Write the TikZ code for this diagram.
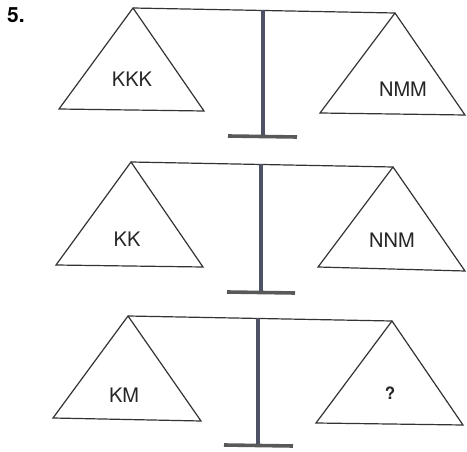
\documentclass[tikz,border=0pt]{standalone}
\usepackage{fontspec}
\setmainfont{TeX Gyre Heros}
\definecolor{polegray}{RGB}{78,82,100}
\begin{document}
\begin{tikzpicture}[
  x=1pt, y=-1pt,
  pan/.style={draw=black!80, line width=1.2pt, line join=miter},
  beam/.style={draw=black!80, line width=1.2pt},
  pole/.style={draw=polegray, line width=3.6pt},
  foot/.style={draw=black!65, line width=3.6pt},
  weight/.style={font=\fontsize{20}{24}\selectfont, text=black!85}
]
  \useasboundingbox (0,0) rectangle (467,452);
  \node[font=\bfseries\fontsize{21}{24}\selectfont, anchor=north west, inner sep=0pt] at (7,7) {5.};

  % === SCALE 1 ===
  \draw[beam] (133,8) -- (395,13);
  \draw[pan] (133,8) -- (59,109) -- (204,111) -- cycle;
  \draw[pan] (395,13) -- (320,113) -- (465,115) -- cycle;
  \draw[pole] (263,10) -- (263,136);
  \draw[foot] (228,136) -- (297,137);
  \node[weight] at (132,79) {KKK};
  \node[weight] at (403,89) {NMM};

  % === SCALE 2 ===
  \draw[beam] (131,162) -- (393,167);
  \draw[pan] (131,162) -- (56,265) -- (203,267) -- cycle;
  \draw[pan] (393,167) -- (318,267) -- (465,271) -- cycle;
  \draw[pole] (261,164) -- (261,292);
  \draw[foot] (227,292) -- (295,293);
  \node[weight] at (127,239) {KK};
  \node[weight] at (392,240) {NNM};

  % === SCALE 3 ===
  \draw[beam] (128,316) -- (392,321);
  \draw[pan] (128,316) -- (53,418) -- (201,421) -- cycle;
  \draw[pan] (392,321) -- (316,423) -- (463,425) -- cycle;
  \draw[pole] (258,318) -- (258,445);
  \draw[foot] (224,445) -- (293,446);
  \node[weight] at (124,395) {KM};
  \node[weight, font=\bfseries\fontsize{17}{20}\selectfont] at (390,393) {?};
\end{tikzpicture}
\end{document}
